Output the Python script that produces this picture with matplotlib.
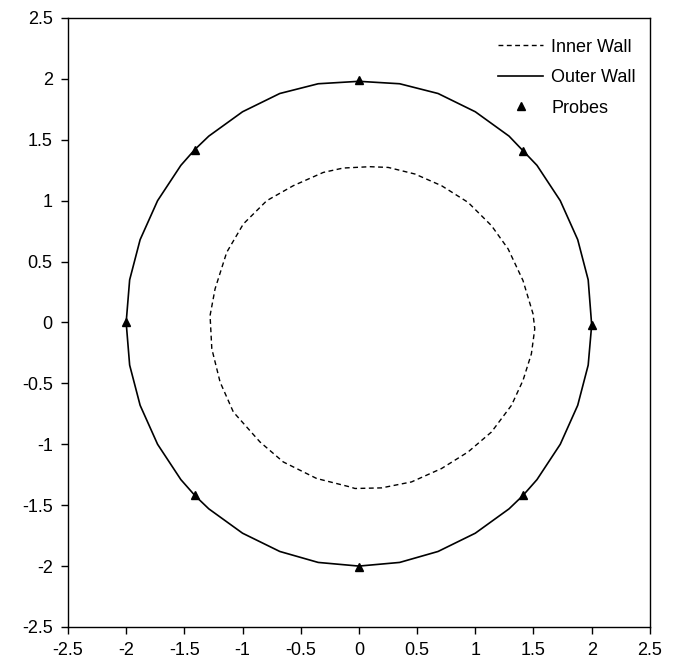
import numpy as np
import matplotlib
matplotlib.use("Agg")
import matplotlib.pyplot as plt

plt.rcParams["font.family"] = ["Liberation Sans", "DejaVu Sans"]

# inner wall outline (x, y), traced clockwise starting at the left side
inner_x = [-1.279, -1.236, -1.136, -0.993, -0.792, -0.564, -0.306, -0.135, 0.094,
           0.252, 0.481, 0.710, 0.938, 1.139, 1.282, 1.410, 1.496, 1.511, 1.482,
           1.410, 1.311, 1.139, 0.938, 0.710, 0.452, 0.195, -0.034, -0.077, -0.363,
           -0.650, -0.850, -1.079, -1.193, -1.264, -1.279]
inner_y = [0.057, 0.276, 0.576, 0.809, 1.000, 1.123, 1.232, 1.268, 1.279,
           1.273, 1.219, 1.123, 0.986, 0.795, 0.604, 0.344, 0.071, -0.052, -0.257,
           -0.475, -0.680, -0.899, -1.063, -1.199, -1.309, -1.358, -1.363, -1.350, -1.281,
           -1.145, -0.981, -0.735, -0.489, -0.216, 0.057]

# outer wall outline
outer_x = [2.00, 1.97, 1.88, 1.73, 1.53, 1.41, 1.29, 1.00, 0.68, 0.35, 0.00,
           -0.35, -0.68, -1.00, -1.29, -1.41, -1.53, -1.73, -1.88, -1.97, -2.00,
           -1.97, -1.88, -1.73, -1.53, -1.41, -1.29, -1.00, -0.68, -0.35, 0.00,
           0.35, 0.68, 1.00, 1.29, 1.41, 1.53, 1.73, 1.88, 1.97, 2.00]
outer_y = [-0.02, 0.35, 0.68, 1.00, 1.29, 1.41, 1.53, 1.73, 1.88, 1.96, 1.98,
           1.96, 1.88, 1.73, 1.53, 1.42, 1.29, 1.00, 0.68, 0.35, 0.00,
           -0.35, -0.68, -1.00, -1.29, -1.42, -1.53, -1.73, -1.88, -1.97, -2.00,
           -1.97, -1.88, -1.73, -1.53, -1.42, -1.29, -1.00, -0.68, -0.35, -0.02]

# probe locations
probe_x = [0.0, 1.41, 2.0, 1.41, 0.0, -1.41, -2.0, -1.41]
probe_y = [1.99, 1.41, -0.02, -1.42, -2.01, -1.42, 0.0, 1.42]

ticks = [-2.5, -2, -1.5, -1, -0.5, 0, 0.5, 1, 1.5, 2, 2.5]
tick_labels = ["-2.5", "-2", "-1.5", "-1", "-0.5", "0", "0.5", "1", "1.5", "2", "2.5"]

fig = plt.figure(figsize=(6.79, 6.71), dpi=100)
ax = fig.add_axes([0.1001, 0.0656, 0.857, 0.9076])

ax.plot(inner_x, inner_y, color="black", linestyle=(0, (3.5, 2.5)), linewidth=1.0, label="Inner Wall")
ax.plot(outer_x, outer_y, color="black", linestyle="-", linewidth=1.2, label="Outer Wall")
ax.plot(probe_x, probe_y, linestyle="none", marker="^", markersize=6,
        color="black", label="Probes")

ax.set_xlim(-2.5, 2.5)
ax.set_ylim(-2.5, 2.5)
ax.set_xticks(ticks)
ax.set_yticks(ticks)
ax.set_xticklabels(tick_labels)
ax.set_yticklabels(tick_labels)
ax.tick_params(direction="out", length=5, width=1, labelsize=13, pad=6)
for s in ax.spines.values():
    s.set_linewidth(1.0)

ax.legend(loc="upper right", bbox_to_anchor=(0.976, 0.966), frameon=False, fontsize=13,
          handlelength=2.5, labelspacing=0.75, borderaxespad=0, borderpad=0,
          handletextpad=0.45)

fig.savefig("out.png", dpi=100)
